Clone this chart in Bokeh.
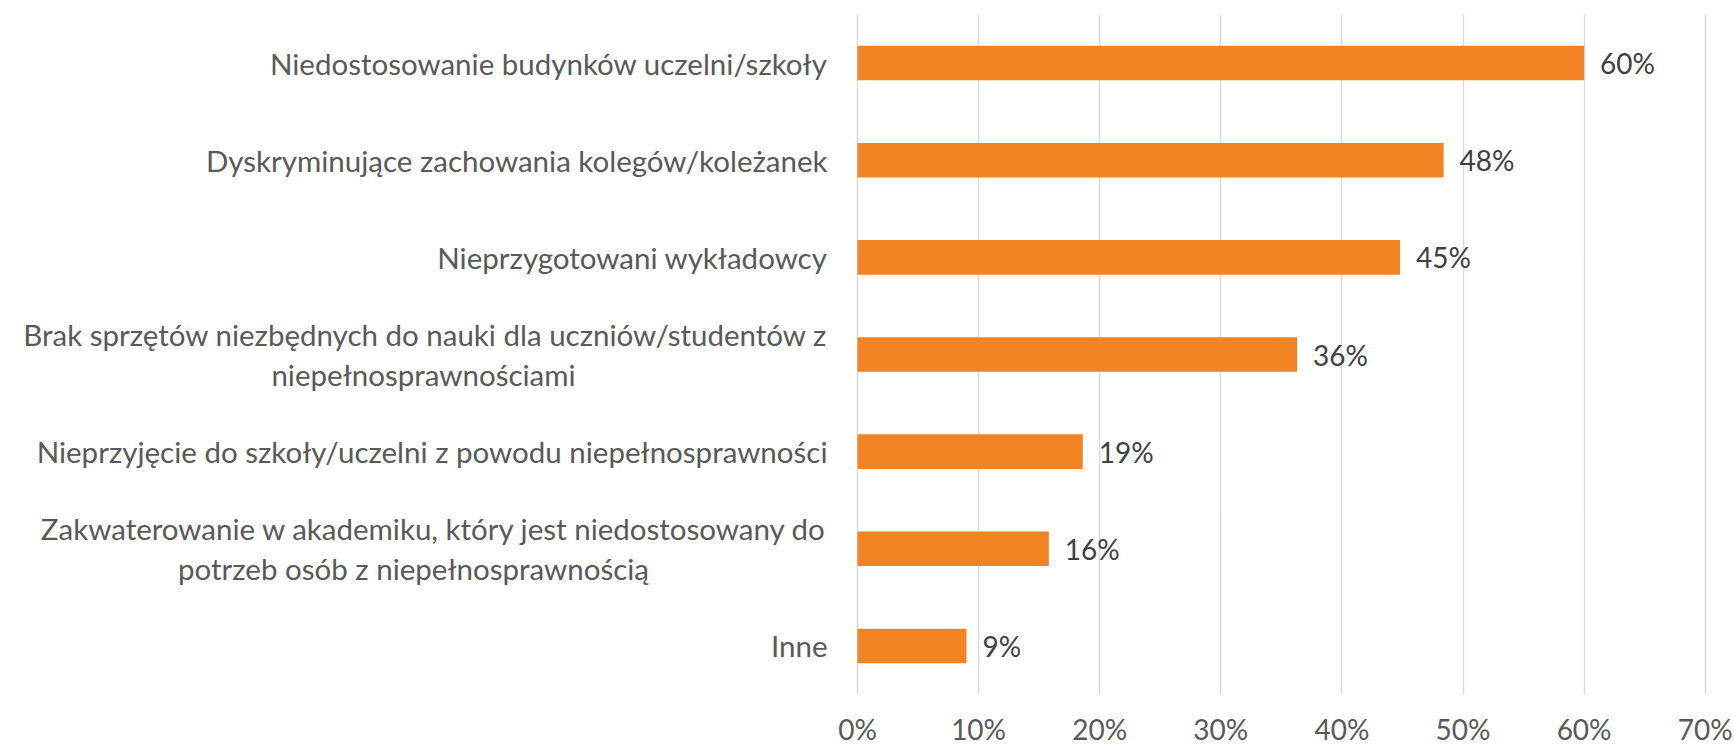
from bokeh.plotting import figure
from bokeh.models import ColumnDataSource, FactorRange, Range1d, FixedTicker, CustomJSTickFormatter
from bokeh.core.properties import value
from bokeh.embed import file_html
from bokeh.resources import INLINE

# ---- data ----
categories = [
    "Niedostosowanie budynków uczelni/szkoły",
    "Dyskryminujące zachowania kolegów/koleżanek",
    "Nieprzygotowani wykładowcy",
    "Brak sprzętów niezbędnych do nauki dla uczniów/studentów z niepełnosprawnościami",
    "Nieprzyjęcie do szkoły/uczelni z powodu niepełnosprawności",
    "Zakwaterowanie w akademiku, który jest niedostosowany do potrzeb osób z niepełnosprawnością",
    "Inne",
]
label_line1 = [
    "Niedostosowanie budynków uczelni/szkoły",
    "Dyskryminujące zachowania kolegów/koleżanek",
    "Nieprzygotowani wykładowcy",
    "Brak sprzętów niezbędnych do nauki dla uczniów/studentów z",
    "Nieprzyjęcie do szkoły/uczelni z powodu niepełnosprawności",
    "Zakwaterowanie w akademiku, który jest niedostosowany do",
    "Inne",
]
label_line2 = ["", "", "", "niepełnosprawnościami", "", "potrzeb osób z niepełnosprawnością", ""]
values = [60.0, 48.4, 44.8, 36.3, 18.6, 15.8, 9.0]
x_ticks = [0, 10, 20, 30, 40, 50, 60, 70]

# ---- layout constants ----
W, H = 1734, 748
PX0 = 857.0      # canvas x of the 0 value
PPU = 12.11      # pixels per percent
FONT = "Lato"
GAP = 30         # gap between label block and axis zero
line2_center_offset = {3: -434, 5: -444}

x_range = Range1d(-PX0 / PPU, (W - PX0) / PPU)
y_range = FactorRange(factors=list(reversed(categories)), range_padding=0)

p = figure(width=W, height=H, x_range=x_range, y_range=y_range,
           output_backend="svg", toolbar_location=None, y_axis_location=None,
           min_border_left=0, min_border_right=0, min_border_top=14, min_border_bottom=0)
p.outline_line_color = None
p.background_fill_color = "white"
p.border_fill_color = "white"

# grid
p.xgrid.ticker = FixedTicker(ticks=x_ticks)
p.xgrid.grid_line_color = "#D9D9D9"
p.xgrid.grid_line_width = 1.4
p.ygrid.grid_line_color = None

# x axis
ax = p.xaxis[0]
ax.ticker = FixedTicker(ticks=x_ticks)
ax.formatter = CustomJSTickFormatter(code="return tick + '%';")
ax.axis_line_color = None
ax.major_tick_line_color = None
ax.minor_tick_line_color = None
ax.major_tick_out = 0
ax.major_tick_in = 0
ax.major_label_standoff = 17
ax.major_label_text_font = FONT
ax.major_label_text_font_size = "28px"
ax.major_label_text_color = "#595959"

# bars
src = ColumnDataSource(dict(
    cat=categories,
    val=values,
    lab=[f"{round(v):d}%" for v in values],
))
p.hbar(y="cat", right="val", left=0, height=0.356, source=src,
       fill_color="#F28322", line_color=None)

# value labels
p.text(x="val", y="cat", text="lab", source=src, x_offset=16,
       text_align="left", text_baseline="middle",
       text_font=value(FONT), text_font_size="28px", text_color="#404040")

# category labels (line 1 right aligned, line 2 centred below line 1)
l1_y_off = [(-20 if l2 else 0) for l2 in label_line2]
src1 = ColumnDataSource(dict(cat=categories, t=label_line1,
                             zero=[0] * len(categories), yo=l1_y_off))
p.text(x="zero", y="cat", text="t", source=src1, x_offset=-GAP, y_offset="yo",
       text_align="right", text_baseline="middle",
       text_font=value(FONT), text_font_size="29.5px", text_color="#595959")

idx2 = [i for i, l2 in enumerate(label_line2) if l2]
src2 = ColumnDataSource(dict(cat=[categories[i] for i in idx2],
                             t=[label_line2[i] for i in idx2],
                             zero=[0] * len(idx2),
                             xo=[line2_center_offset[i] for i in idx2]))
p.text(x="zero", y="cat", text="t", source=src2, x_offset="xo", y_offset=20,
       text_align="center", text_baseline="middle",
       text_font=value(FONT), text_font_size="29.5px", text_color="#595959")

open("out.html", "w").write(file_html(p, INLINE))
